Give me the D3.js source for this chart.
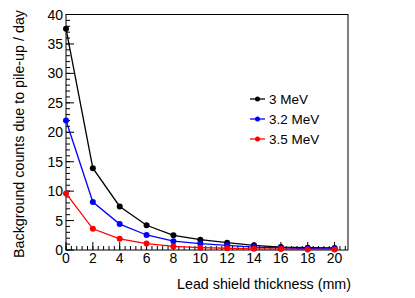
<!DOCTYPE html>
<html>
<head>
<meta charset="utf-8">
<script src="https://cdn.jsdelivr.net/npm/d3@7"></script>
<style>
  body { margin: 0; background: #fff; }
  text { font-family: "Liberation Sans", Arial, sans-serif; }
</style>
</head>
<body>
<div id="chart"></div>
<script>
// thickness (mm)
const thickness = [0, 2, 4, 6, 8, 10, 12, 14, 16, 18, 20]
// background counts per day, one array per energy threshold
const mev3 = [37.6, 13.9, 7.4, 4.2, 2.5, 1.75, 1.25, 0.8, 0.5, 0.4, 0.35]
const mev32 = [22.0, 8.15, 4.4, 2.55, 1.5, 1.1, 0.8, 0.5, 0.35, 0.25, 0.2]
const mev35 = [9.6, 3.6, 1.9, 1.1, 0.6, 0.4, 0.3, 0.2, 0.15, 0.1, 0.1]
const seriesNames = ['3 MeV', '3.2 MeV', '3.5 MeV']
const xTicks = [0, 2, 4, 6, 8, 10, 12, 14, 16, 18, 20]
const yTicks = [0, 5, 10, 15, 20, 25, 30, 35, 40]

const W = 415, H = 298
const m = { left: 66, right: 348, top: 14.5, bottom: 250 }
const colors = ['#000', '#0000ff', '#ff0000']
const series = [mev3, mev32, mev35].map((vals, i) => ({
  name: seriesNames[i], color: colors[i],
  pts: thickness.map((t, j) => ({ x: t, y: vals[j] }))
}))

const svg = d3.select('#chart').append('svg').attr('width', W).attr('height', H)
const x = d3.scaleLinear().domain([0, 21]).range([m.left, m.right])
const y = d3.scaleLinear().domain([0, 40]).range([m.bottom, m.top])

// frame
svg.append('rect').attr('x', m.left).attr('y', m.top)
  .attr('width', m.right - m.left).attr('height', m.bottom - m.top)
  .attr('fill', 'none').attr('stroke', '#000').attr('stroke-width', 1)

// x axis: major ticks + minor ones every 0.4
const gx = svg.append('g')
const xMinor = d3.range(0, 21.01, 0.4)
gx.selectAll('line.minor').data(xMinor).join('line')
  .attr('x1', d => x(d)).attr('x2', d => x(d))
  .attr('y1', m.bottom).attr('y2', m.bottom - 4)
  .attr('stroke', '#000')
gx.selectAll('line.major').data(xTicks).join('line')
  .attr('x1', d => x(d)).attr('x2', d => x(d))
  .attr('y1', m.bottom).attr('y2', m.bottom - 8)
  .attr('stroke', '#000')
gx.selectAll('text').data(xTicks).join('text')
  .attr('x', d => x(d)).attr('y', 263)
  .attr('text-anchor', 'middle').attr('font-size', 14)
  .text(d => d)

// y axis: major every 5, minor every 1
const gy = svg.append('g')
gy.selectAll('line.minor').data(d3.range(0, 41, 1)).join('line')
  .attr('x1', m.left).attr('x2', m.left + 4)
  .attr('y1', d => y(d)).attr('y2', d => y(d))
  .attr('stroke', '#000')
gy.selectAll('line.major').data(yTicks).join('line')
  .attr('x1', m.left).attr('x2', m.left + 8)
  .attr('y1', d => y(d)).attr('y2', d => y(d))
  .attr('stroke', '#000')
gy.selectAll('text').data(yTicks).join('text')
  .attr('x', 63).attr('y', d => y(d) + 5)
  .attr('text-anchor', 'end').attr('font-size', 14)
  .text(d => d)

// axis titles
svg.append('text').attr('x', 351).attr('y', 289)
  .attr('text-anchor', 'end').attr('font-size', 14.3)
  .text('Lead shield thickness (mm)')
svg.append('text')
  .attr('transform', 'translate(24,10) rotate(-90)')
  .attr('text-anchor', 'end').attr('font-size', 14.3)
  .text('Background counts due to pile-up / day')

// curves
const line = d3.line().x(d => x(d.x)).y(d => y(d.y))
const g = svg.append('g')
series.forEach(s => {
  g.append('path').datum(s.pts).attr('d', line)
    .attr('fill', 'none').attr('stroke', s.color).attr('stroke-width', 1.3)
  g.selectAll(null).data(s.pts).join('circle')
    .attr('cx', d => x(d.x)).attr('cy', d => y(d.y)).attr('r', 3)
    .attr('fill', s.color)
})

// legend
const lg = svg.append('g')
series.forEach((s, i) => {
  const ly = 99 + i * 20
  lg.append('line').attr('x1', 250).attr('x2', 265).attr('y1', ly).attr('y2', ly)
    .attr('stroke', s.color).attr('stroke-width', 1.3)
  lg.append('circle').attr('cx', 257.5).attr('cy', ly).attr('r', 2.5).attr('fill', s.color)
  lg.append('text').attr('x', 269).attr('y', ly + 5).attr('font-size', 13.5).text(s.name)
})
</script>
</body>
</html>
